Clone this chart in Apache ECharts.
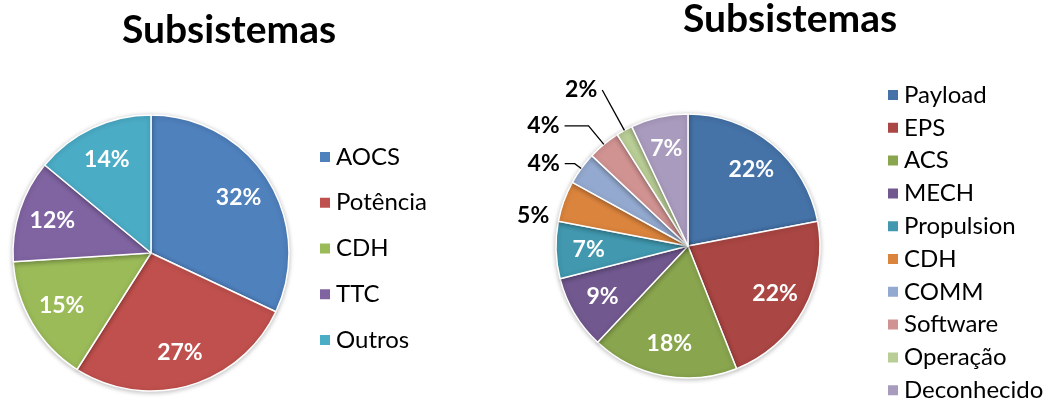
<!DOCTYPE html>
<html>
<head>
<meta charset="utf-8">
<script src="https://cdn.jsdelivr.net/npm/echarts@6/dist/echarts.min.js"></script>
<style>
  html, body { margin: 0; padding: 0; background: #fff; }
  #chart { width: 1051px; height: 404px; }
</style>
</head>
<body>
<div id="chart"></div>
<script>
// left pie
var leftNames = ['AOCS', 'Potência', 'CDH', 'TTC', 'Outros'];
var leftValues = [32, 27, 15, 12, 14];
var leftColors = ['#4F81BD', '#C0504D', '#9BBB59', '#8064A2', '#4BACC6'];

// right pie
var rightNames = ['Payload', 'EPS', 'ACS', 'MECH', 'Propulsion', 'CDH', 'COMM', 'Software', 'Operação', 'Deconhecido'];
var rightValues = [22, 22, 18, 9, 7, 5, 4, 4, 2, 7];
var rightColors = ['#4572A7', '#AA4643', '#89A54E', '#71588F', '#4198AF', '#DB843D', '#93A9CF', '#D19392', '#B9CD96', '#A99BBD'];

// slices whose label sits outside the pie: leader [length, length2] (null = no line)
// and label padding used to lift / drop the text next to the line end
var rightOutside = {
  'CDH': { line: null, pad: 0 },
  'COMM': { line: [8, 10], pad: [12, 0, 0, 0] },
  'Software': { line: [24, 24], pad: 0 },
  'Operação': { line: [46, 0], pad: [0, 0, 12, 0] }
};
// the lineless CDH label is dropped a bit, as Excel places it
var rightNudge = { 'CDH': [10, 17] };

var FONT = 'Lato';

function pieData(names, values, colors) {
  return names.map(function (n, i) {
    return { name: n, value: values[i], itemStyle: { color: colors[i] } };
  });
}

function legendData(names, colors) {
  return names.map(function (n, i) {
    return { name: n, itemStyle: { color: colors[i] } };
  });
}

// transparent ring used only to carry labels a bit further out than the mid radius
function labelRing(names, values, center, r, outside, nudge) {
  outside = outside || {};
  nudge = nudge || {};
  return {
    type: 'pie',
    center: center,
    radius: [r * 0.46, r],
    silent: true,
    z: 5,
    avoidLabelOverlap: false,
    itemStyle: { color: 'rgba(0,0,0,0)', borderWidth: 0 },
    emphasis: { disabled: true },
    label: {
      show: true,
      position: 'inside',
      formatter: '{c}%',
      color: '#fff',
      fontFamily: FONT,
      fontWeight: 'bold',
      fontSize: 23
    },
    labelLine: { show: false },
    labelLayout: function (p) {
      var nd = nudge[names[p.dataIndex]];
      return nd ? { dx: nd[0], dy: nd[1] } : {};
    },
    data: names.map(function (n, i) {
      var d = { name: n, value: values[i] };
      var o = outside[n];
      if (o) {
        var len = o.line || [8, 12];
        d.label = { position: 'outside', color: '#000', fontSize: 23, padding: o.pad };
        d.labelLine = {
          show: !!o.line,
          length: len[0],
          length2: len[1],
          lineStyle: { color: '#000', width: 1.3 }
        };
      }
      return d;
    })
  };
}

function mainPie(names, values, colors, center, r) {
  return {
    type: 'pie',
    center: center,
    radius: r,
    startAngle: 90,
    label: { show: false },
    labelLine: { show: false },
    itemStyle: {
      borderColor: '#fff',
      borderWidth: 1.5,
      shadowBlur: 5,
      shadowColor: 'rgba(0,0,0,0.25)',
      shadowOffsetY: 1
    },
    emphasis: { scale: false },
    data: pieData(names, values, colors)
  };
}

var leftCenter = [151, 253], leftR = 138;
var rightCenter = [688, 246], rightR = 132;

var titleStyle = { fontFamily: FONT, fontWeight: 'bold', fontSize: 39, color: '#000' };
var legendText = { fontFamily: FONT, fontSize: 24, color: '#000' };

var chart = echarts.init(document.getElementById('chart'));
chart.setOption({
  animation: false,
  title: [
    { text: 'Subsistemas', left: 229, top: 11, padding: 0, textAlign: 'center', textStyle: titleStyle },
    { text: 'Subsistemas', left: 790, top: 0, padding: 0, textAlign: 'center', textStyle: titleStyle }
  ],
  legend: [
    {
      orient: 'vertical', left: 318, top: 145, height: 250, padding: 0,
      icon: 'rect', itemWidth: 12, itemHeight: 12, itemGap: 21.75,
      textStyle: legendText,
      data: legendData(leftNames, leftColors)
    },
    {
      orient: 'vertical', left: 886, top: 83, height: 330, padding: 0,
      icon: 'rect', itemWidth: 12, itemHeight: 12, itemGap: 8.8,
      textStyle: legendText,
      data: legendData(rightNames, rightColors)
    }
  ],
  series: [
    mainPie(leftNames, leftValues, leftColors, leftCenter, leftR),
    mainPie(rightNames, rightValues, rightColors, rightCenter, rightR),
    labelRing(leftNames, leftValues, leftCenter, leftR, null, null),
    labelRing(rightNames, rightValues, rightCenter, rightR, rightOutside, rightNudge)
  ]
});
</script>
</body>
</html>
